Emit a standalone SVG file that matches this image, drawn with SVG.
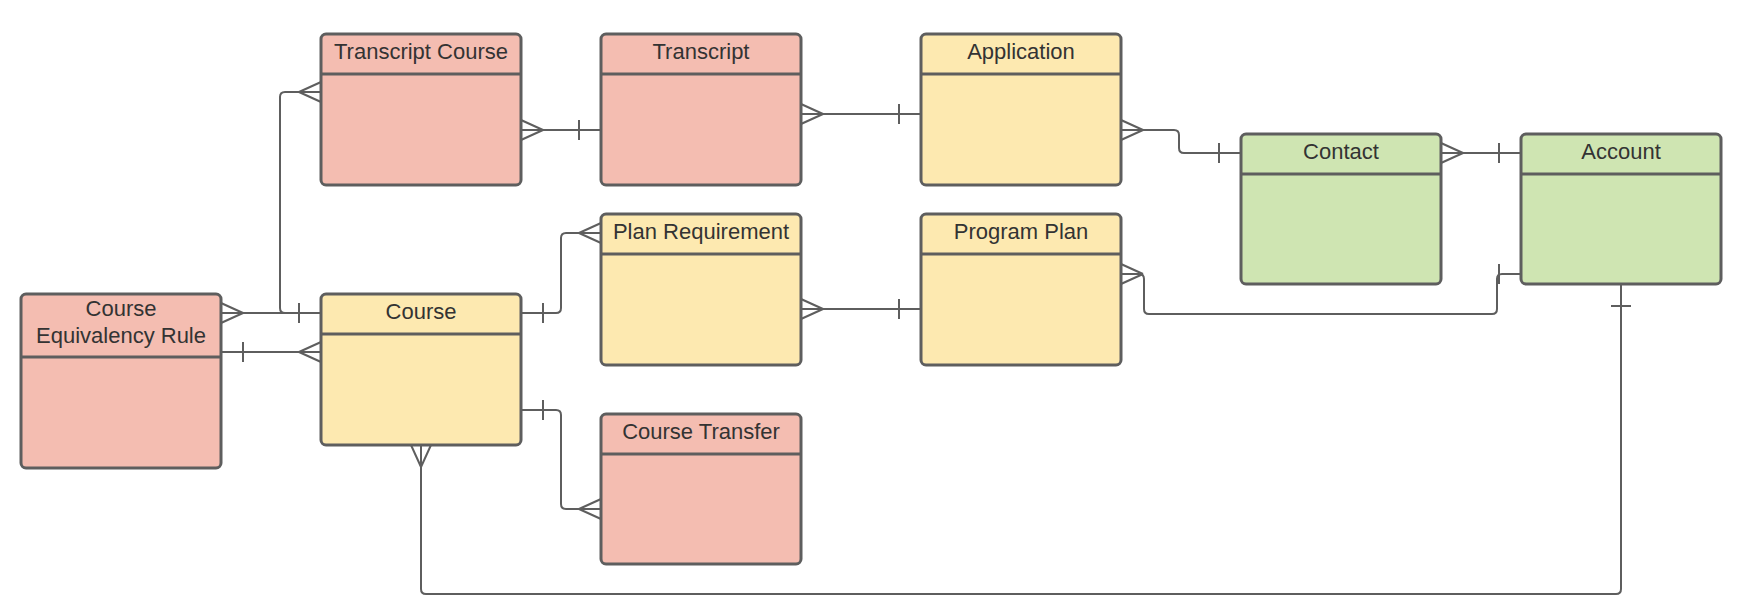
<svg xmlns="http://www.w3.org/2000/svg" width="1756" height="616" viewBox="0 0 1756 616">
<style>
.box{stroke:#5e5e5e;stroke-width:3}
.div{stroke:#5e5e5e;stroke-width:3;fill:none}
.pink{fill:#f4bdb1}
.yellow{fill:#fde9b0}
.green{fill:#cfe5b2}
.t{font-family:"Liberation Sans",Arial,sans-serif;font-size:22px;fill:#333333;text-anchor:middle}
.c{fill:none;stroke:#5e5e5e;stroke-width:2}
</style>
<defs>
<marker id="many" markerUnits="userSpaceOnUse" viewBox="-30 -15 35 30" markerWidth="35" markerHeight="30" refX="0" refY="0" orient="auto-start-reverse" overflow="visible">
<path d="M-22,0 L0,-10 M-22,0 L0,10" fill="none" stroke="#5e5e5e" stroke-width="2"/>
</marker>
<marker id="one" markerUnits="userSpaceOnUse" viewBox="-30 -15 35 30" markerWidth="35" markerHeight="30" refX="0" refY="0" orient="auto-start-reverse" overflow="visible">
<path d="M-22,-10 L-22,10" fill="none" stroke="#5e5e5e" stroke-width="2"/>
</marker>
</defs>
<rect width="1756" height="616" fill="#ffffff"/>
<g id="connectors">
<path class="c" d="M521,130 H601" marker-start="url(#many)" marker-end="url(#one)"/>
<path class="c" d="M801,114 H921" marker-start="url(#many)" marker-end="url(#one)"/>
<path class="c" d="M1121,130 H1174 Q1179,130 1179,135 V148 Q1179,153 1184,153 H1241" marker-start="url(#many)" marker-end="url(#one)"/>
<path class="c" d="M1441,153 H1521" marker-start="url(#many)" marker-end="url(#one)"/>
<path class="c" d="M1121,274 H1139 Q1144,274 1144,279 V309 Q1144,314 1149,314 H1492 Q1497,314 1497,309 V279 Q1497,274 1502,274 H1521" marker-start="url(#many)" marker-end="url(#one)"/>
<path class="c" d="M1621,284 V589 Q1621,594 1616,594 H426 Q421,594 421,589 V445" marker-start="url(#one)" marker-end="url(#many)"/>
<path class="c" d="M221,313 H321" marker-start="url(#many)" marker-end="url(#one)"/>
<path class="c" d="M321,313 H285 Q280,313 280,308 V97 Q280,92 285,92 H321" marker-start="url(#one)" marker-end="url(#many)"/>
<path class="c" d="M221,352 H321" marker-start="url(#one)" marker-end="url(#many)"/>
<path class="c" d="M521,313 H556 Q561,313 561,308 V238 Q561,233 566,233 H601" marker-start="url(#one)" marker-end="url(#many)"/>
<path class="c" d="M801,309 H921" marker-start="url(#many)" marker-end="url(#one)"/>
<path class="c" d="M521,410 H556 Q561,410 561,415 V504 Q561,509 566,509 H601" marker-start="url(#one)" marker-end="url(#many)"/>
</g>
<g id="transcript-course">
<rect class="box pink" x="321" y="34" width="200" height="151" rx="5"/>
<line class="div" x1="321" y1="74" x2="521" y2="74"/>
<text class="t" x="421" y="59">Transcript Course</text>
</g>
<g id="transcript">
<rect class="box pink" x="601" y="34" width="200" height="151" rx="5"/>
<line class="div" x1="601" y1="74" x2="801" y2="74"/>
<text class="t" x="701" y="59">Transcript</text>
</g>
<g id="application">
<rect class="box yellow" x="921" y="34" width="200" height="151" rx="5"/>
<line class="div" x1="921" y1="74" x2="1121" y2="74"/>
<text class="t" x="1021" y="59">Application</text>
</g>
<g id="contact">
<rect class="box green" x="1241" y="134" width="200" height="150" rx="5"/>
<line class="div" x1="1241" y1="174" x2="1441" y2="174"/>
<text class="t" x="1341" y="159">Contact</text>
</g>
<g id="account">
<rect class="box green" x="1521" y="134" width="200" height="150" rx="5"/>
<line class="div" x1="1521" y1="174" x2="1721" y2="174"/>
<text class="t" x="1621" y="159">Account</text>
</g>
<g id="plan-requirement">
<rect class="box yellow" x="601" y="214" width="200" height="151" rx="5"/>
<line class="div" x1="601" y1="254" x2="801" y2="254"/>
<text class="t" x="701" y="239">Plan Requirement</text>
</g>
<g id="program-plan">
<rect class="box yellow" x="921" y="214" width="200" height="151" rx="5"/>
<line class="div" x1="921" y1="254" x2="1121" y2="254"/>
<text class="t" x="1021" y="239">Program Plan</text>
</g>
<g id="course-equivalency-rule">
<rect class="box pink" x="21" y="294" width="200" height="174" rx="5"/>
<line class="div" x1="21" y1="357" x2="221" y2="357"/>
<text class="t" x="121" y="316">Course</text>
<text class="t" x="121" y="343">Equivalency Rule</text>
</g>
<g id="course">
<rect class="box yellow" x="321" y="294" width="200" height="151" rx="5"/>
<line class="div" x1="321" y1="334" x2="521" y2="334"/>
<text class="t" x="421" y="319">Course</text>
</g>
<g id="course-transfer">
<rect class="box pink" x="601" y="414" width="200" height="150" rx="5"/>
<line class="div" x1="601" y1="454" x2="801" y2="454"/>
<text class="t" x="701" y="439">Course Transfer</text>
</g>
</svg>
